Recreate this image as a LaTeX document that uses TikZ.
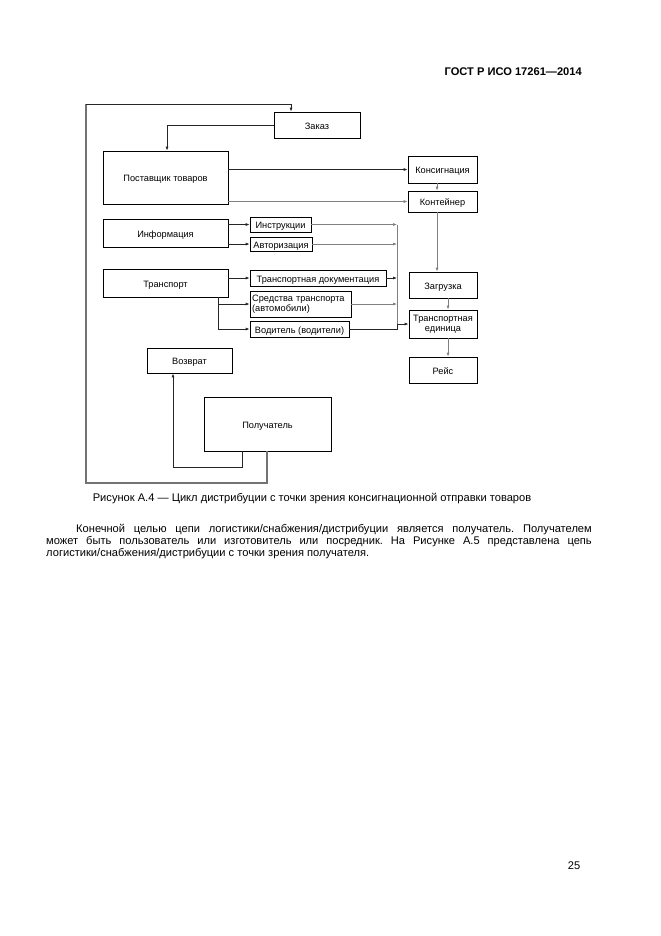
\documentclass[tikz,border=0pt]{standalone}
\usepackage{fontspec}
\setmainfont{Liberation Sans}
\usetikzlibrary{arrows.meta,calc}
\frenchspacing
\begin{document}
\begin{tikzpicture}[x=0.9pt,y=-0.9pt,
 box/.style={draw=black, line width=0.7pt, inner sep=1pt, font=\fontsize{8.3}{9.3}\selectfont, align=center},
 one/.style={text height=1.55ex, text depth=0.15ex},
 arr/.style={-{Latex[length=3.5pt,width=2.6pt]}},
 ln/.style={draw=black!85, line width=0.6pt},
 lg/.style={draw=black!50, line width=0.6pt},
 lgt/.style={draw=black!55, line width=1.1pt}]
\useasboundingbox (0,0) rectangle (661,936);
\fill[white] (0,0) rectangle (661,936);

% header
\node[anchor=east, font=\bfseries\fontsize{10}{12}\selectfont, inner sep=0pt] (hdr) at (582,72) {ГОСТ Р ИСО 17261—2014};

% boxes
\node[box, one, minimum width=77.4pt, minimum height=23.4pt] (zakaz) at (317,125) {Заказ};
\node[box, one, minimum width=112.5pt, minimum height=47.7pt] (post) at (165.5,177.5) {Поставщик товаров};
\node[box, one, minimum width=112.5pt, minimum height=25.2pt] (info) at (165.5,233) {Информация};
\node[box, one, minimum width=54.9pt, minimum height=13.5pt] (instr) at (280.5,224.5) {Инструкции};
\node[box, one, minimum width=55.8pt, minimum height=12.6pt] (avt) at (281,244) {Авторизация};
\node[box, one, minimum width=112.5pt, minimum height=25.2pt] (trans) at (165.5,283) {Транспорт};
\node[box, one, minimum width=122.4pt, minimum height=14.4pt] (tdoc) at (318,278) {Транспортная документация};
\node[box, minimum width=90.9pt, minimum height=23.4pt, align=left, text width=87pt] (sred) at (300.5,304) {Средства транспорта\\(автомобили)};
\node[box, one, minimum width=89.1pt, minimum height=14.4pt] (vod) at (299.5,329) {Водитель (водители)};
\node[box, one, minimum width=62.1pt, minimum height=24.3pt] (kons) at (442.5,169.5) {Консигнация};
\node[box, one, minimum width=62.1pt, minimum height=18.9pt] (kont) at (442.5,201.5) {Контейнер};
\node[box, one, minimum width=61.2pt, minimum height=23.4pt] (zagr) at (443,285) {Загрузка};
\node[box, minimum width=61.2pt, minimum height=25.2pt] (ted) at (443,324) {Транспортная\\единица};
\node[box, one, minimum width=61.2pt, minimum height=23.4pt] (reis) at (443,370) {Рейс};
\node[box, one, minimum width=76.5pt, minimum height=22.5pt] (vozv) at (189.5,360.5) {Возврат};
\node[box, one, minimum width=114.3pt, minimum height=48.6pt] (polu) at (267.5,424) {Получатель};

% helper coordinates
\coordinate (lp) at (267,483);
\coordinate (lq) at (86,104);
\coordinate (lz) at (291,104);
\coordinate (kz) at (167,0);
\coordinate (col) at (397,0);
\coordinate (br) at (218,0);
\coordinate (ra) at (242,467);
\coordinate (rb) at (173,0);
\coordinate (kx) at (437,0);
\coordinate (zx) at (448,0);

% outer loop
\draw[lgt] (lp |- polu.south) -- (lp) -| (lq);
\draw[ln,arr] (lq) -- (lz) -- (lz |- zakaz.north);

% Заказ -> Поставщик
\draw[ln,arr] (zakaz.west) -| (kz |- post.north);

% Поставщик -> Консигнация / Контейнер
\draw[ln,arr] (post.east |- kons.west) -- (kons.west);
\draw[lg,arr] (post.east |- kont.west) -- (kont.west);

% right column
\draw[lg,arr] (kx |- kons.south) -- (kx |- kont.north);
\draw[lg,arr] (kx |- kont.south) -- (kx |- zagr.north);
\draw[lg,arr] (zx |- zagr.south) -- (zx |- ted.north);
\draw[lg,arr] (zx |- ted.south) -- (zx |- reis.north);

% Информация
\draw[ln,arr] (info.east |- instr.west) -- (instr.west);
\draw[ln,arr] (info.east |- avt.west) -- (avt.west);
\draw[lg,arr] (instr.east) -- (instr.east -| col);
\draw[lg,arr] (avt.east) -- (avt.east -| col);

% Транспорт
\draw[ln,arr] (trans.east |- tdoc.west) -- (tdoc.west);
\draw[ln,arr] (br |- trans.south) |- (vod.west);
\draw[ln,arr] (br |- sred.west) -- (sred.west);
\draw[ln,arr] (tdoc.east) -- (tdoc.east -| col);
\draw[lg,arr] (sred.east) -- (sred.east -| col);

% collector
\draw[lg] (col |- instr.east) -- (col |- vod.east);
\draw[ln,arr] (vod.east) -- (vod.east -| col) |- (ted.west);

% Получатель -> Возврат
\draw[ln,arr] (ra |- polu.south) -- (ra) -| (rb |- vozv.south);

% caption
\node[font=\fontsize{10}{12}\selectfont, inner sep=0pt] (cap) at (312,499) {Рисунок А.4 — Цикл дистрибуции с точки зрения консигнационной отправки товаров};

% paragraph
\node[anchor=north west, text width=491pt, align=justify, inner sep=0pt, font=\fontsize{10}{11}\selectfont] (par) at (46,524)
{\hspace*{27pt}Конечной целью цепи логистики/снабжения/дистрибуции является получатель. Получателем может быть пользователь или изготовитель или посредник. На Рисунке А.5 представлена цепь логистики/снабжения/дистрибуции с точки зрения получателя.};

% page number
\node[font=\fontsize{10}{12}\selectfont, inner sep=0pt] (pg) at (574,866) {25};
\end{tikzpicture}
\end{document}
